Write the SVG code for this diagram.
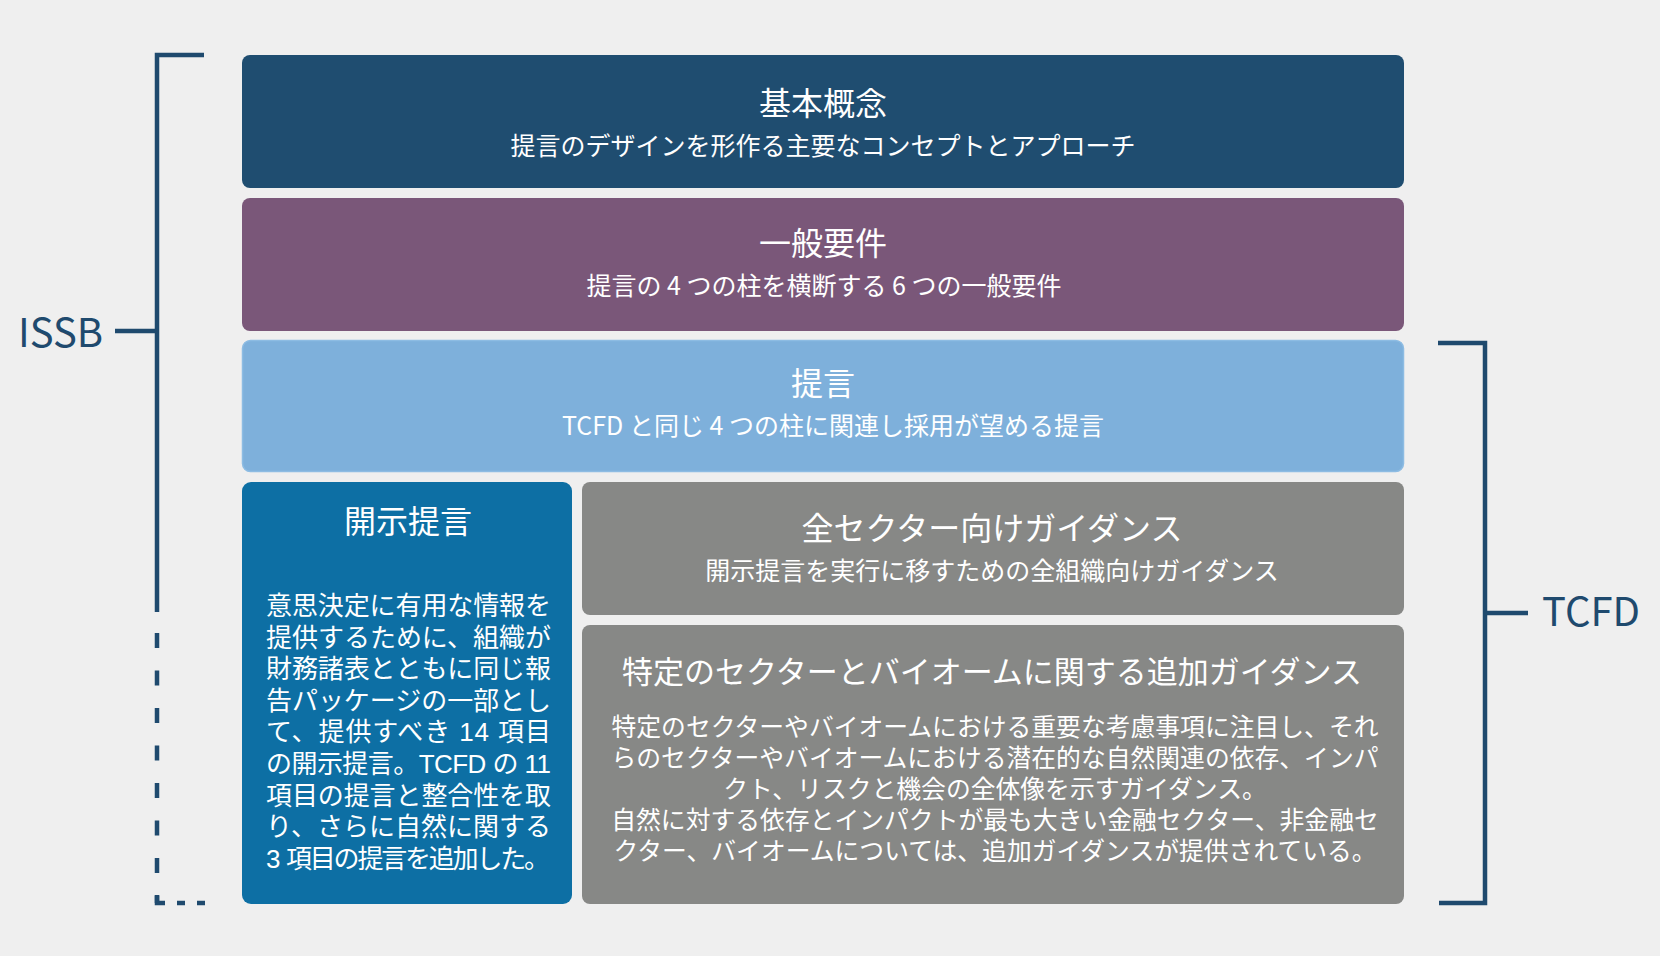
<svg xmlns="http://www.w3.org/2000/svg" width="1660" height="956" viewBox="0 0 1660 956">
<style>
text{font-family:"Noto Sans CJK JP","Noto Sans",sans-serif;fill:#ffffff}
.t{font-size:32px;text-anchor:middle}
.s{font-size:25px;text-anchor:middle}
.b{font-size:26px;font-family:"Liberation Sans","Noto Sans CJK JP",sans-serif}
.g{font-size:24.8px;text-anchor:middle}
.lab{font-size:40px;fill:#1f4a6e}
.br{stroke:#1f4a6e;stroke-width:4.5;fill:none}
</style>
<rect x="0" y="0" width="1660" height="956" fill="#efefef"/>
<g id="connectors">
<path class="br" d="M204,55 H157 V612"/>
<line class="br" x1="115" y1="331" x2="157" y2="331"/>
<path class="br" d="M157,633 V903" stroke-dasharray="15 22.5"/>
<path class="br" d="M157,895 V903 H165"/>
<line class="br" x1="177" y1="903" x2="185" y2="903"/>
<line class="br" x1="197" y1="903" x2="205" y2="903"/>
<path class="br" d="M1438,343 H1485 V903 H1439"/>
<line class="br" x1="1485" y1="613" x2="1528" y2="613"/>
</g>
<g id="issb"><text class="lab" x="18" y="347">ISSB</text></g>
<g id="tcfd"><text class="lab" x="1542" y="626">TCFD</text></g>
<g id="kihon">
<rect x="242" y="55" width="1162" height="133" rx="8" fill="#1f4d70"/>
<text class="t" x="823" y="115">基本概念</text>
<text class="s" x="823" y="155">提言のデザインを形作る主要なコンセプトとアプローチ</text>
</g>
<g id="ippan">
<rect x="242" y="198" width="1162" height="133" rx="8" fill="#7a5779"/>
<text class="t" x="823" y="255">一般要件</text>
<text class="s" x="824" y="295">提言の 4 つの柱を横断する 6 つの一般要件</text>
</g>
<g id="teigen">
<rect x="242.5" y="340.5" width="1161" height="131" rx="8" fill="#7eb0db" stroke="#8dbce3" stroke-width="1.5"/>
<text class="t" x="823" y="395">提言</text>
<text class="s" x="833" y="435">TCFD と同じ 4 つの柱に関連し採用が望める提言</text>
</g>
<g id="kaiji">
<rect x="242" y="482" width="330" height="422" rx="9" fill="#0d6fa4"/>
<text class="t" x="408" y="533">開示提言</text>
<text class="b" x="266" y="615" textLength="285" lengthAdjust="spacing">意思決定に有用な情報を</text>
<text class="b" x="266" y="646.6" textLength="285" lengthAdjust="spacing">提供するために、組織が</text>
<text class="b" x="266" y="678.2" textLength="285" lengthAdjust="spacing">財務諸表とともに同じ報</text>
<text class="b" x="266" y="709.8" textLength="285" lengthAdjust="spacing">告パッケージの一部とし</text>
<text class="b" x="266" y="741.4" textLength="285" lengthAdjust="spacing">て、提供すべき 14 項目</text>
<text class="b" x="266" y="773" textLength="285" lengthAdjust="spacing">の開示提言。TCFD の 11</text>
<text class="b" x="266" y="804.6" textLength="285" lengthAdjust="spacing">項目の提言と整合性を取</text>
<text class="b" x="266" y="836.2" textLength="285" lengthAdjust="spacing">り、さらに自然に関する</text>
<text class="b" x="266" y="867.8"><tspan>3 </tspan><tspan x="286" textLength="264" lengthAdjust="spacing">項目の提言を追加した。</tspan></text>
</g>
<g id="zensector">
<rect x="582" y="482" width="822" height="133" rx="8" fill="#878886"/>
<text class="t" x="992" y="540">全セクター向けガイダンス</text>
<text class="s" x="992" y="580">開示提言を実行に移すための全組織向けガイダンス</text>
</g>
<g id="tokutei">
<rect x="582" y="625" width="822" height="279" rx="8" fill="#878886"/>
<text class="t" x="992" y="683" style="font-size:31px">特定のセクターとバイオームに関する追加ガイダンス</text>
<text class="g" x="995" y="736">特定のセクターやバイオームにおける重要な考慮事項に注目し、それ</text>
<text class="g" x="995" y="767">らのセクターやバイオームにおける潜在的な自然関連の依存、インパ</text>
<text class="g" x="995" y="798">クト、リスクと機会の全体像を示すガイダンス。</text>
<text class="g" x="995" y="829">自然に対する依存とインパクトが最も大きい金融セクター、非金融セ</text>
<text class="g" x="995" y="860">クター、バイオームについては、追加ガイダンスが提供されている。</text>
</g>
</svg>
